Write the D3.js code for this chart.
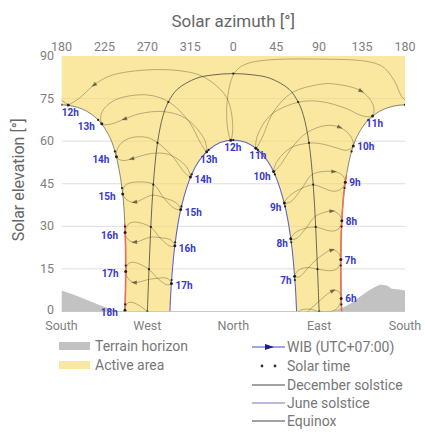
<!DOCTYPE html>
<html>
<head>
<meta charset="utf-8">
<script src="https://cdn.jsdelivr.net/npm/d3@7"></script>
<style>
  body { margin: 0; background: #fff; }
  svg { display: block; font-family: Roboto, "Liberation Sans", sans-serif; }
</style>
</head>
<body>
<svg id="chart" width="425" height="432"></svg>
<script>
// axis labels
const azTicks = [180, 225, 270, 315, 0, 45, 90, 135, 180];
const elTicks = [0, 15, 30, 45, 60, 75, 90];
const compass = ["South", "West", "North", "East", "South"];
const wibHours = [6, 7, 8, 9, 10, 11, 12, 13, 14, 15, 16, 17, 18];

// sun paths, [azimuth, elevation]
const decPath = [[113.6,0],[113.3,2.5],[112.7,16.2],[113.5,29.9],[116.6,43.5],[124.0,56.4],[130.9,62.4],[141.6,67.5],[158.1,71.3],[180,72.8],
  [201.9,71.3],[218.4,67.5],[229.1,62.4],[236.0,56.4],[243.4,43.5],[246.5,29.9],[247.3,16.2],[246.7,2.5],[246.4,0]];
const junePath = [[66.4,0],[64.6,11.1],[60.8,24.4],[54.3,37.0],[43.6,48.3],[35.8,53.1],[25.8,56.9],[13.6,59.5],[0,60.4],
  [346.4,59.5],[334.2,56.9],[324.2,53.1],[316.4,48.3],[305.7,37.0],[299.2,24.4],[295.4,11.1],[293.6,0]];
const equinoxPath = [[90,0],[88.3,14.9],[86.4,29.8],[83.8,44.7],[79.4,59.4],[73.5,69.1],[68.0,73.8],[58.5,78.3],[39.0,82.1],[22.0,83.3],[0,83.8],
  [338.0,83.3],[321.0,82.1],[301.5,78.3],[292.0,73.8],[286.5,69.1],[280.6,59.4],[276.2,44.7],[273.6,29.8],[271.7,14.9],[270,0]];

// solar-time hour marks on the three paths
const decDots = [[113.3,2.5],[112.7,16.2],[113.5,29.9],[116.6,43.5],[124.0,56.4],[141.6,67.5],[180,72.8],[218.4,67.5],[236.0,56.4],[243.4,43.5],[246.5,29.9],[247.3,16.2],[246.7,2.5]];
const juneDots = [[64.6,11.1],[60.8,24.4],[54.3,37.0],[43.6,48.3],[25.8,56.9],[0,60.4],[334.2,56.9],[316.4,48.3],[305.7,37.0],[299.2,24.4],[295.4,11.1]];
const equinoxDots = [[90,0],[88.3,14.9],[86.4,29.8],[83.8,44.7],[79.4,59.4],[68.0,73.8],[0,83.8],[292.0,73.8],[280.6,59.4],[276.2,44.7],[273.6,29.8],[271.7,14.9],[270,0]];

// WIB clock hour positions on the solstices
const decHourPts = [[113.1,4.6],[112.7,18.3],[113.8,32.0],[117.4,45.5],[125.8,58.3],[146.0,68.9],[187.1,72.7],[222.2,66.1],[237.6,54.5],[244.1,41.4],[246.7,27.8],[247.3,14.1],[246.5,0.4]];
const juneHourPts = [null,[64.3,12.4],[60.3,25.6],[53.6,38.2],[42.3,49.3],[23.7,57.5],[357.4,60.3],[332.2,56.3],[315.1,47.4],[304.9,35.9],[298.8,23.2],[295.2,9.9],null];

// WIB analemmas, one loop per hour (Dec -> Jun -> Dec)
const analemmas = [
  [[113.1,4.6],[110.2,1.7],[104.3,0.2],[89.8,0.0],[80.8,0.8],[70.8,0.5],[66.3,-1.2],[70.8,-1.8],[80.8,0.8],[89.8,3.6],[104.3,7.3],[110.2,7.1]],
  [[112.7,18.3],[109.6,15.3],[103.5,14.4],[88.3,14.9],[78.9,15.5],[68.5,14.6],[64.3,12.4],[69.1,12.2],[78.9,15.5],[87.9,18.5],[103.4,21.7],[109.6,20.9]],
  [[113.8,32.0],[110.2,29.1],[103.3,28.3],[86.5,29.7],[76.3,29.4],[65.2,27.8],[60.3,25.6],[65.8,25.6],[76.3,29.4],[85.9,33.5],[103.3,35.4],[110.2,34.4]],
  [[117.4,45.5],[111.9,42.9],[103.8,42.4],[84.0,44.6],[72.0,43.4],[58.8,40.7],[53.6,38.2],[60.4,38.7],[72.0,43.4],[82.9,48.3],[105.3,49.3],[114.3,48.0]],
  [[125.8,58.3],[118.5,56.8],[107.6,57.7],[91.7,59.1],[79.5,59.3],[60.5,57.7],[46.3,53.1],[42.3,49.3],[48.7,51.3],[63.1,58.4],[77.7,63.1],[96.9,65.5],[111.5,64.9],[122.9,61.8]],
  [[146.0,68.9],[134.4,69.0],[118.4,71.5],[90.9,74.0],[68.2,73.7],[39.5,69.3],[25.4,62.0],[23.7,57.5],[29.8,60.9],[42.4,70.4],[61.6,77.1],[90.6,80.0],[104.1,80.2],[133.9,77.7],[146.7,72.7]],
  [[187.1,72.7],[176.6,75.7],[168.6,81.4],[153.7,86.8],[90,88.9],[14.5,87.3],[0.9,83.8],[353.6,73.9],[354.0,64.7],[357.4,60.3],[359.5,65.0],[353.0,75.4],[329.1,82.6],[306.5,84.7],[270,85.1],[231.6,83.1],[214.2,79.8],[198.1,75.0]],
  [[222.2,66.1],[222.4,70.2],[236.1,74.5],[269.2,76.3],[292.1,73.9],[313.6,66.9],[325.7,59.4],[332.2,56.3],[329.6,60.7],[310.7,67.9],[287.7,70.4],[262.3,69.7],[246.1,67.8],[231.6,66.0]],
  [[237.6,54.5],[240.3,58.4],[250.9,61.0],[268.4,61.4],[280.6,59.5],[296.6,54.5],[308.7,49.1],[315.1,47.4],[310.9,51.0],[294.2,55.1],[279.2,55.8],[264.0,54.9],[253.7,53.8],[243.7,53.2]],
  [[244.1,41.4],[246.7,44.4],[255.2,45.5],[276.4,44.8],[286.9,40.1],[298.5,36.3],[304.9,35.9],[300.1,38.3],[286.9,40.1],[275.3,41.0],[256.7,38.5],[249.1,39.2]],
  [[246.7,27.8],[249.9,30.7],[256.7,31.5],[273.3,29.8],[283.1,26.0],[294.0,23.0],[298.8,23.2],[294.0,25.3],[283.1,26.0],[273.3,26.2],[256.7,24.4],[249.9,25.3]],
  [[247.3,14.1],[250.3,16.9],[256.4,17.3],[271.5,14.9],[280.6,11.7],[290.6,9.4],[295.2,9.9],[290.6,11.7],[280.6,11.7],[271.5,11.3],[256.4,10.2],[250.3,11.4]],
  [[246.5,0.4],[249.4,3.0],[255.4,3.1],[270.2,0.0],[279.1,-2.7],[289.1,-4.5],[293.5,-3.7],[289.1,-2.2],[279.1,-2.7],[270.2,-3.6],[255.4,-4.0],[249.4,-2.4]]
];

// terrain horizon
const terrainWest = [[180,7.4],[195,5.6],[210,3.6],[225,1.6],[238,0]];
const terrainEast = [[101,0],[108,0.6],[116,1.5],[125,3.3],[133,5.3],[140,7.0],[147,8.4],[154,9.5],[161,9.2],[166,8.0],[172,7.8],[177,7.6],[180,7.4]];

// elevation up to which the December path is drawn red (east, west)
const decRedEast = 48, decRedWest = 31;

const svg = d3.select("#chart");
const x = d3.scaleLinear().domain([0, 360]).range([61.5, 405]);
const y = d3.scaleLinear().domain([0, 90]).range([311.5, 56]);
const toS = az => (az + 180) % 360;

const defs = svg.append("defs");
defs.append("clipPath").attr("id", "plotClip").append("rect")
  .attr("x", x(0)).attr("y", y(90)).attr("width", x(360) - x(0)).attr("height", y(0) - y(90));
const redClip = defs.append("clipPath").attr("id", "redClip");
redClip.append("rect").attr("x", x(180)).attr("y", y(decRedEast))
  .attr("width", x(360) - x(180)).attr("height", y(0) - y(decRedEast));
redClip.append("rect").attr("x", x(0)).attr("y", y(decRedWest))
  .attr("width", x(180) - x(0)).attr("height", y(0) - y(decRedWest));

const line = d3.line().x(d => x(d[0])).y(d => y(d[1])).curve(d3.curveCatmullRom);
const lineClosed = d3.line().x(d => x(d[0])).y(d => y(d[1])).curve(d3.curveCatmullRomClosed);

function unwrap(pts) {
  let prev = null;
  return pts.map(([az, el]) => {
    let s = toS(az);
    if (prev !== null) {
      while (s - prev > 180) s -= 360;
      while (s - prev < -180) s += 360;
    }
    prev = s;
    return [s, el];
  });
}

// draws a path and its copies shifted by 360 so the wrap at south is covered
function drawWrapped(g, pts, closed) {
  let u = unwrap(pts);
  let gen = line;
  if (closed) {
    const first = u[0][0], last = u[u.length - 1][0];
    let adj = first;
    while (adj - last > 180) adj -= 360;
    while (adj - last < -180) adj += 360;
    if (Math.abs(adj - first) > 1) u = u.concat([[adj, u[0][1]]]);
    else gen = lineClosed;
  }
  const lo = d3.min(u, d => d[0]), hi = d3.max(u, d => d[0]);
  const copies = [];
  [-720, -360, 0, 360, 720].forEach(k => {
    if (hi + k >= 0 && lo + k <= 360) copies.push(u.map(d => [d[0] + k, d[1]]));
  });
  return g.selectAll(null).data(copies).enter().append("path")
    .attr("d", gen).attr("fill", "none");
}

// grid
const grid = svg.append("g");
grid.selectAll("line").data(elTicks.filter(e => e > 0 && e < 90)).enter().append("line")
  .attr("x1", x(0)).attr("x2", x(360))
  .attr("y1", d => y(d)).attr("y2", d => y(d))
  .attr("stroke", "#dedede").attr("stroke-width", 1);
grid.append("line").attr("x1", x(0)).attr("x2", x(360)).attr("y1", y(0)).attr("y2", y(0))
  .attr("stroke", "#c8c8c8").attr("stroke-width", 1);

const plot = svg.append("g").attr("clip-path", "url(#plotClip)");

// active area between the solstice paths
const decAft = decPath.filter(d => d[0] >= 180).map(d => [d[0] - 180, d[1]]);
const decMorn = decPath.filter(d => d[0] <= 180).map(d => [d[0] + 180, d[1]]);
const juneRev = junePath.map(d => [toS(d[0]), d[1]]).reverse();
const areaD = "M" + x(0) + "," + y(90) +
  "L" + line(decAft).slice(1) +
  "L" + line(juneRev).slice(1) +
  "L" + line(decMorn).slice(1) +
  "L" + x(360) + "," + y(90) + "Z";
plot.append("path").attr("d", areaD).attr("fill", "rgba(247,220,110,0.65)");

// terrain
const terrainLine = d3.line().x(d => x(d[0])).y(d => y(d[1]));
plot.append("path")
  .attr("d", terrainLine([[0, 0]].concat(terrainWest.map(d => [d[0] - 180, d[1]]))) + "Z")
  .attr("fill", "#c2c2c2");
plot.append("path")
  .attr("d", terrainLine(terrainEast.map(d => [d[0] + 180, d[1]]).concat([[360, 0]])) + "Z")
  .attr("fill", "#c2c2c2");

// analemmas
const anaG = plot.append("g");
analemmas.forEach(pts => {
  drawWrapped(anaG, pts, true)
    .attr("stroke", "#3a3320").attr("stroke-opacity", 0.38).attr("stroke-width", 0.9);
});

// solstice and equinox paths
drawWrapped(plot.append("g"), equinoxPath, false)
  .attr("stroke", "#333").attr("stroke-opacity", 0.8).attr("stroke-width", 0.9);
drawWrapped(plot.append("g"), junePath, false)
  .attr("stroke", "#6464c0").attr("stroke-width", 1.1);
drawWrapped(plot.append("g"), decPath, false)
  .attr("stroke", "#444").attr("stroke-opacity", 0.7).attr("stroke-width", 0.9);
drawWrapped(plot.append("g").attr("clip-path", "url(#redClip)"), decPath, false)
  .attr("stroke", "#ec6f5a").attr("stroke-width", 1.6);

// arrows on the analemmas (November, pointing toward December)
const arrowG = plot.append("g");
analemmas.forEach(pts => {
  const u = unwrap(pts);
  const n = u.length;
  const p = u[n - 2], a = u[n - 3], b = u[n - 1];
  const ang = Math.atan2(y(b[1]) - y(a[1]), x(b[0]) - x(a[0])) * 180 / Math.PI;
  [-360, 0, 360].forEach(k => {
    const s = p[0] + k;
    if (s < 0 || s > 360) return;
    arrowG.append("path").attr("d", "M3.2,0L-2.4,-2.1L-2.4,2.1Z")
      .attr("transform", `translate(${x(s)},${y(p[1])}) rotate(${ang})`)
      .attr("fill", "#3a3320").attr("fill-opacity", 0.65);
  });
});

// solar time dots
const dotG = plot.append("g");
[decDots, juneDots, equinoxDots].forEach(set => {
  set.forEach(([az, el]) => {
    const s = toS(az);
    (s === 0 ? [0, 360] : [s]).forEach(sv => {
      dotG.append("circle").attr("cx", x(sv)).attr("cy", y(el)).attr("r", 1.1).attr("fill", "#222");
    });
  });
});

// WIB hour points and labels
const labG = svg.append("g").attr("font-size", 10).attr("font-weight", 700).attr("fill", "#3838c8");
function hourLabel(pt, h, isDec) {
  if (!pt || pt[1] < 0) return;
  const s = toS(pt[0]);
  const px = x(s), py = y(pt[1]);
  plot.append("circle").attr("cx", px).attr("cy", py).attr("r", 1.5).attr("fill", "#222");
  const east = pt[0] < 180;
  const mid = isDec ? Math.abs(pt[0] - 180) < 40 : (pt[0] < 30 || pt[0] > 330);
  const t = labG.append("text").text(h + "h");
  if (mid) {
    t.attr("x", px + 2).attr("y", py + 11).attr("text-anchor", "middle");
  } else if (isDec) {
    if (east) t.attr("x", px + 4).attr("y", py + 4).attr("text-anchor", "start");
    else t.attr("x", px - 7).attr("y", py + 6).attr("text-anchor", "end");
  } else {
    if (east) t.attr("x", px - 3).attr("y", py + 8).attr("text-anchor", "end");
    else t.attr("x", px + 4).attr("y", py + 6).attr("text-anchor", "start");
  }
}
wibHours.forEach((h, i) => {
  hourLabel(decHourPts[i], h, true);
  hourLabel(juneHourPts[i], h, false);
});

// axes text
const axG = svg.append("g").attr("fill", "#808080");
axG.selectAll(".az").data(azTicks).enter().append("text")
  .attr("x", (d, i) => x(i * 45)).attr("y", 51)
  .attr("text-anchor", "middle").attr("font-size", 12.5).text(d => d);
axG.selectAll(".el").data(elTicks).enter().append("text")
  .attr("x", 54).attr("y", d => y(d) + (d === 0 ? 2 : 4))
  .attr("text-anchor", "end").attr("font-size", 12.5).text(d => d);
axG.selectAll(".cmp").data(compass).enter().append("text")
  .attr("x", (d, i) => x(i * 90)).attr("y", 329.5)
  .attr("text-anchor", "middle").attr("font-size", 12.5).text(d => d);

svg.append("text").attr("x", x(180)).attr("y", 27).attr("text-anchor", "middle")
  .attr("font-size", 17).attr("fill", "#666").text("Solar azimuth [°]");
svg.append("text").attr("transform", `translate(24,${(y(0) + y(90)) / 2 - 4}) rotate(-90)`)
  .attr("text-anchor", "middle").attr("font-size", 16).attr("fill", "#666").text("Solar elevation [°]");

// legend
const lg = svg.append("g").attr("font-size", 14).attr("fill", "#777");
lg.append("rect").attr("x", 59).attr("y", 342).attr("width", 31).attr("height", 8).attr("fill", "#c2c2c2");
lg.append("text").attr("x", 95).attr("y", 351).text("Terrain horizon");
lg.append("rect").attr("x", 59).attr("y", 361).attr("width", 31).attr("height", 8).attr("fill", "rgba(247,220,110,0.65)");
lg.append("text").attr("x", 95).attr("y", 369.5).text("Active area");

const lx = 252, lw = 33, tx = 287;
lg.append("line").attr("x1", lx).attr("x2", lx + lw).attr("y1", 347).attr("y2", 347)
  .attr("stroke", "#4646d2").attr("stroke-width", 1.2);
lg.append("path").attr("d", "M5,0L-4,-3L-4,3Z").attr("transform", `translate(${lx + 17},347)`).attr("fill", "#1c1c8c");
lg.append("text").attr("x", tx).attr("y", 352).text("WIB (UTC+07:00)");
[262, 275].forEach(cx => lg.append("circle").attr("cx", cx).attr("cy", 366).attr("r", 1.4).attr("fill", "#333"));
lg.append("text").attr("x", tx).attr("y", 371).text("Solar time");
lg.append("line").attr("x1", lx).attr("x2", lx + lw).attr("y1", 385).attr("y2", 385)
  .attr("stroke", "#444").attr("stroke-width", 1);
lg.append("text").attr("x", tx).attr("y", 390).text("December solstice");
lg.append("line").attr("x1", lx).attr("x2", lx + lw).attr("y1", 403).attr("y2", 403)
  .attr("stroke", "#7474c0").attr("stroke-width", 1);
lg.append("text").attr("x", tx).attr("y", 408).text("June solstice");
lg.append("line").attr("x1", lx).attr("x2", lx + lw).attr("y1", 421).attr("y2", 421)
  .attr("stroke", "#444").attr("stroke-width", 1);
lg.append("text").attr("x", tx).attr("y", 426).text("Equinox");
</script>
</body>
</html>
